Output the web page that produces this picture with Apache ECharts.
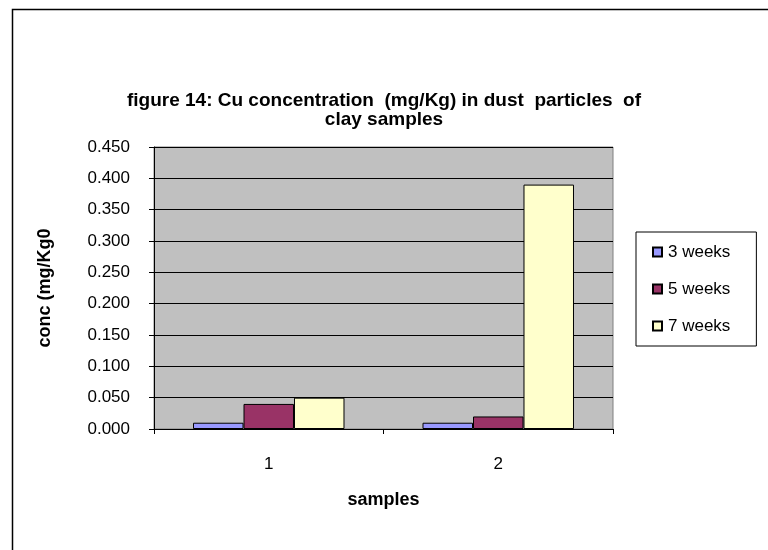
<!DOCTYPE html>
<html>
<head>
<meta charset="utf-8">
<script src="https://cdn.jsdelivr.net/npm/echarts@6/dist/echarts.min.js"></script>
<style>
html,body{margin:0;padding:0;background:#fff;}
#chart{width:768px;height:550px;}
</style>
</head>
<body>
<div id="chart"></div>
<script>
var categories = ['1', '2'];
var seriesNames = ['3 weeks', '5 weeks', '7 weeks'];
var weeks3 = [0.010, 0.010];
var weeks5 = [0.040, 0.020];
var weeks7 = [0.050, 0.390];
var yTicks = ['0.000','0.050','0.100','0.150','0.200','0.250','0.300','0.350','0.400','0.450'];
var titleText = 'figure 14: Cu concentration  (mg/Kg) in dust  particles  of\nclay samples';
var yName = 'conc (mg/Kg0';
var xName = 'samples';

var colors = ['#9999FF', '#993366', '#FFFFCC'];
var values = [weeks3, weeks5, weeks7];
var font = 'Liberation Sans, Arial, sans-serif';

var chart = echarts.init(document.getElementById('chart'), null, {renderer: 'canvas'});
var series = seriesNames.map(function (n, i) {
  return {
    name: n,
    type: 'bar',
    data: values[i],
    barGap: '0%',
    barCategoryGap: '34%',
    itemStyle: {color: colors[i], borderColor: '#000', borderWidth: 1},
    emphasis: {disabled: true}
  };
});

chart.setOption({
  animation: false,
  backgroundColor: '#ffffff',
  graphic: [{
    type: 'rect', left: 10, top: 7, shape: {width: 800, height: 600},
    style: {fill: 'none', stroke: '#000', lineWidth: 1.5}, silent: true, z: 100
  }],
  title: {
    text: titleText,
    left: 'center',
    top: 86,
    textStyle: {fontFamily: font, fontSize: 19, fontWeight: 'bold', color: '#000', lineHeight: 19}
  },
  legend: {
    orient: 'vertical',
    left: 636,
    top: 232,
    data: seriesNames,
    itemWidth: 9,
    itemHeight: 9,
    itemGap: 19,
    padding: [11, 26, 11, 16],
    borderColor: '#000',
    borderWidth: 1,
    backgroundColor: '#fff',
    icon: 'rect',
    textStyle: {fontFamily: font, fontSize: 17, color: '#000', lineHeight: 18, padding: [0, 0, 0, 1]}
  },
  grid: {
    left: 154, right: 155, top: 147, bottom: 121,
    show: true, backgroundColor: '#C0C0C0', borderColor: '#808080', borderWidth: 1
  },
  xAxis: {
    type: 'category',
    data: categories,
    name: xName,
    nameLocation: 'middle',
    nameGap: 62,
    nameTextStyle: {fontFamily: font, fontSize: 18, fontWeight: 'bold', color: '#000'},
    axisLine: {lineStyle: {color: '#000', width: 1}},
    axisTick: {show: true, length: 5, lineStyle: {color: '#000'}},
    axisLabel: {fontFamily: font, fontSize: 17, color: '#000', margin: 27}
  },
  yAxis: {
    type: 'value',
    min: 0, max: 0.45, interval: 0.05,
    name: yName,
    nameLocation: 'middle',
    nameGap: 100,
    nameTextStyle: {fontFamily: font, fontSize: 18, fontWeight: 'bold', color: '#000'},
    axisLine: {show: true, lineStyle: {color: '#000', width: 1}},
    axisTick: {show: true, length: 5, lineStyle: {color: '#000'}},
    axisLabel: {
      fontFamily: font, fontSize: 17, color: '#000', margin: 24,
      formatter: function (v) { return yTicks[Math.round(v / 0.05)]; }
    },
    splitLine: {show: true, lineStyle: {color: '#000', width: 1}}
  },
  series: series
});
</script>
</body>
</html>
